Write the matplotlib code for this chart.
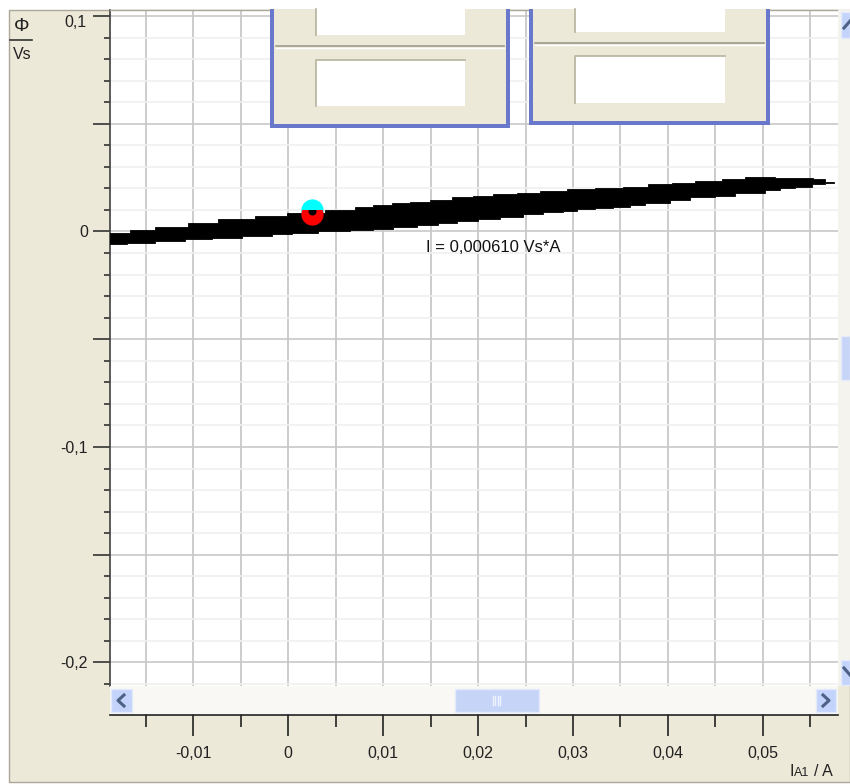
import matplotlib
matplotlib.use("Agg")
import matplotlib.pyplot as plt
from matplotlib.patches import Rectangle, Polygon

plt.rcParams['font.family'] = ['Liberation Sans', 'DejaVu Sans']

# Data
x_upper = [-.01879, -.01668, -.01405, -.01057, -.00741, -.00351, -.00014, .00387, .00703, .00893,
           .01093, .01282, .01493, .01725, .01946, .02157, .02410, .02652, .02937, .03232,
           .03527, .03790, .04043, .04286, .04570, .04812, .05129, .05529, .05655, .05750]
y_upper = [-.0006, .0007, .0022, .0041, .0057, .0072, .0087, .0100, .0112, .0123,
           .0131, .0138, .0146, .0159, .0165, .0173, .0180, .0188, .0196, .0200,
           .0208, .0219, .0226, .0234, .0242, .0252, .0247, .0242, .0231, .0231]
x_lower = [-.01879, -.01700, -.01405, -.01089, -.00804, -.00488, -.00172, .00039, .00313, .00650,
           .00893, .01103, .01356, .01577, .01778, .01999, .02231, .02473, .02684, .02895,
           .03042, .03232, .03421, .03600, .03758, .04022, .04233, .04496, .04707, .05023,
           .05181, .05339, .05518, .05655, .05750]
y_lower = [-.0058, -.0055, -.0043, -.0037, -.0032, -.0021, -.0013, -.0006, .0004, .0007,
           .0010, .0022, .0030, .0041, .0049, .0057, .0069, .0080, .0089, .0097,
           .0104, .0111, .0115, .0123, .0131, .0146, .0159, .0166, .0177, .0193,
           .0200, .0208, .0219, .0224, .0228]
point_cyan = (0.0025, 0.0098)
point_red = (0.0025, 0.0080)
point_hole = (0.0025, 0.0097)

x_major = [-0.01, 0, 0.01, 0.02, 0.03, 0.04, 0.05]
x_major_labels = ['-0,01', '0', '0,01', '0,02', '0,03', '0,04', '0,05']
x_minor = [-0.015, -0.005, 0.005, 0.015, 0.025, 0.035, 0.045, 0.055]
y_major = [-0.2, -0.15, -0.1, -0.05, 0, 0.05, 0.1]
y_major_labels = ['-0,2', '', '-0,1', '', '0', '', '']
y_top_label = '0,1'
y_minor = [-0.21, -0.19, -0.18, -0.17, -0.16, -0.14, -0.13, -0.12, -0.11, -0.09, -0.08, -0.07,
           -0.06, -0.04, -0.03, -0.02, -0.01, 0.01, 0.02, 0.03, 0.04, 0.06, 0.07, 0.08, 0.09]
annotation = 'I = 0,000610 Vs*A'

W, H = 850, 784
BEIGE = '#ece9d8'
BLUE = '#6a78cc'
FS = 11.5
TXT = '#222222'

fig = plt.figure(figsize=(W / 100, H / 100), dpi=100, facecolor='white')

# background panel
bg = fig.add_axes([0, 0, 1, 1], zorder=-1)
bg.set_xlim(0, W); bg.set_ylim(H, 0); bg.axis('off')
bg.add_patch(Rectangle((9.5, 9.5), W - 9, 772.5, fc=BEIGE, ec='#aca899', lw=1))

# main axes: pixels 110..838 horizontally, 10..715 vertically
ax = fig.add_axes([110 / W, 1 - 715 / H, 728 / W, 705 / H], zorder=1)
ax.set_xlim(-0.01879, 0.05793)
ax.set_ylim(-0.2244, 0.1028)
ax.set_facecolor('white')
for s in ('top', 'right'):
    ax.spines[s].set_visible(False)
ax.spines['left'].set_color('#404040'); ax.spines['left'].set_linewidth(1.2)
ax.spines['left'].set_bounds(-0.2109, 0.1028)
ax.spines['bottom'].set_color('#222222'); ax.spines['bottom'].set_linewidth(1.2)

ax.set_xticks(x_major); ax.set_xticklabels(x_major_labels, fontsize=FS, color=TXT)
ax.set_xticks(x_minor, minor=True)
ax.set_yticks(y_major); ax.set_yticklabels(y_major_labels, fontsize=FS, color=TXT)
ax.set_yticks(y_minor, minor=True)
ax.tick_params(axis='x', which='major', length=15, width=1.2, color='#222222', pad=7)
ax.tick_params(axis='x', which='minor', length=8.5, width=1.2, color='#222222')
ax.tick_params(axis='y', which='major', length=12, width=1.2, color='#333333', pad=4)
ax.tick_params(axis='y', which='minor', length=4, width=1.2, color='#333333')
ax.grid(True, axis='x', which='both', color='#c8c8c8', lw=1.3)
ax.grid(True, axis='y', which='major', color='#c8c8c8', lw=1.2)
ax.grid(True, axis='y', which='minor', color='#f0f0f0', lw=1.2)
ax.set_axisbelow(True)
ax.annotate(y_top_label, xy=(0, 0.1), xycoords=('axes fraction', 'data'), xytext=(-17, -5),
            textcoords='offset points', ha='right', va='center', fontsize=FS, color=TXT)


def stairs(xs, ys):
    pts = []
    for i in range(len(xs) - 1):
        pts += [(xs[i], ys[i]), (xs[i + 1], ys[i])]
    pts.append((xs[-1], ys[-1]))
    return pts


# cyan point behind the band, band, red point clipped to the band's upper edge
ax.plot(*point_cyan, 'o', ms=16, color='#00ffff', mew=0, zorder=3)
band = stairs(x_upper, y_upper) + stairs(x_lower, y_lower)[::-1]
ax.add_patch(Polygon(band, closed=True, fc='black', ec='black', lw=0.6, zorder=4))
red, = ax.plot(*point_red, 'o', ms=16, color='#ff0000', mew=0, zorder=5)
red.set_clip_path(Rectangle((0.0, -0.02), 0.006, 0.0300, transform=ax.transData))
hole, = ax.plot(*point_hole, 'o', ms=5.8, color='black', mew=0, zorder=6)
hole.set_clip_path(Rectangle((0.0, -0.02), 0.006, 0.0300, transform=ax.transData))
ax.text(0.01455, -0.0072, annotation, fontsize=12, color='#111111', va='center', ha='left', zorder=6)

# overlay in pixel coordinates: windows and scrollbars
ov = fig.add_axes([0, 0, 1, 1], zorder=5)
ov.set_xlim(0, W); ov.set_ylim(H, 0); ov.axis('off'); ov.patch.set_alpha(0)
ov.plot([110, 838], [9.5, 9.5], color='#aca899', lw=1, zorder=0.5)


def window(x0, x1, bottom, line_y, ix0, ix1, top_end, low0, low1):
    ov.add_patch(Rectangle((x0, 9), x1 - x0, bottom - 9, fc=BLUE, ec='none'))
    ov.add_patch(Rectangle((x0 + 4, 9), x1 - x0 - 8, bottom - 13, fc=BEIGE, ec='none'))
    ov.plot([x0 + 6, x1 - 6], [line_y, line_y], color='#9c9a8c', lw=1.2)
    ov.plot([x0 + 6, x1 - 6], [line_y + 1.5, line_y + 1.5], color='white', lw=1)
    ov.add_patch(Rectangle((ix0, 9), ix1 - ix0, top_end - 9, fc='white', ec='none'))
    ov.add_patch(Rectangle((ix0, low0), ix1 - ix0, low1 - low0, fc='white', ec='none'))
    ov.plot([ix0, ix0], [9, top_end], color='#b5b29e', lw=1.2)
    ov.plot([ix0, ix0, ix1], [low1, low0, low0], color='#b5b29e', lw=1.2)


window(270, 510, 127.5, 46, 316, 465, 35, 59.5, 106)
window(529, 770.5, 124.5, 43, 575, 725, 32, 56, 103)

SB = '#f4f3ee'; BTN = '#c3d3fb'; THUMB = '#c6d5f7'; ARW = '#4d6185'
# horizontal scrollbar
ov.add_patch(Rectangle((110.5, 686), 727.5, 28, fc='#f9f8f4', ec='none'))
ov.add_patch(Rectangle((111.5, 689), 21, 23, fc=BTN, ec='#e4eafa', lw=1))
ov.add_patch(Rectangle((816, 689), 20, 23, fc=BTN, ec='#e4eafa', lw=1))
ov.add_patch(Rectangle((455, 689), 84, 23, fc=THUMB, ec='#e4eafa', lw=1))
ov.plot([124, 118, 124], [695, 700.5, 706], color=ARW, lw=2.2)
ov.plot([823, 829, 823], [695, 700.5, 706], color=ARW, lw=2.2)
for gx in (493, 495.5, 498, 500.5):
    ov.plot([gx, gx], [696, 705], color='#eef3fd', lw=1)
# vertical scrollbar
ov.add_patch(Rectangle((838, 10), 12, 676, fc=SB, ec='none'))
ov.add_patch(Rectangle((841, 12), 9, 26, fc=BTN, ec='#e4eafa', lw=1))
ov.add_patch(Rectangle((841, 336), 9, 44, fc=THUMB, ec='#e4eafa', lw=1))
ov.add_patch(Rectangle((841, 660), 9, 25, fc=BTN, ec='#e4eafa', lw=1))
ov.plot([844, 850], [28, 21], color=ARW, lw=2.2)
ov.plot([844, 850], [668, 675], color=ARW, lw=2.2)

# axis captions
ov.text(22, 26, 'Φ', fontsize=14, ha='center', va='center', color=TXT)
ov.plot([10, 32], [39.5, 39.5], color='#333333', lw=1.2)
ov.text(22, 54, 'Vs', fontsize=FS, ha='center', va='center', color=TXT)
ov.text(790, 771, 'I', fontsize=FS, ha='left', va='center', color=TXT)
ov.text(794, 773, 'A1', fontsize=9, ha='left', va='center', color=TXT)
ov.text(814, 771, '/ A', fontsize=FS, ha='left', va='center', color=TXT)

fig.savefig('out.png', dpi=100, facecolor='white')
